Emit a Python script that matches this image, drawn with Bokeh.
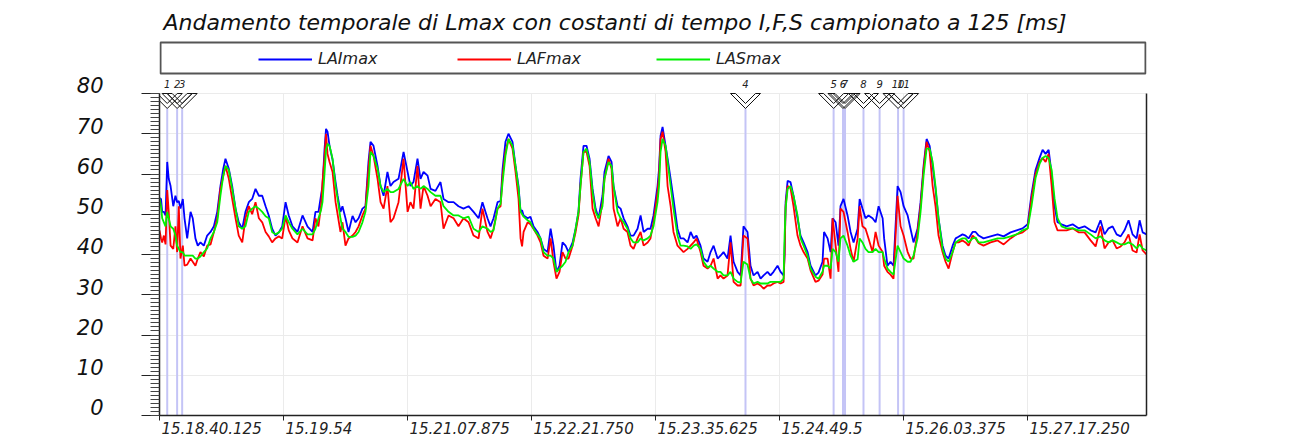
from bokeh.plotting import figure
from bokeh.models import (Range1d, LinearAxis, FixedTicker, CustomJSTickFormatter,
                          Legend, LegendItem, Label)
from bokeh.core.properties import value
from bokeh.embed import file_html
from bokeh.resources import INLINE

TITLE = "Andamento temporale di Lmax con costanti di tempo I,F,S campionato a 125 [ms]"

# elapsed time (s) from 15.18.40.125
time_s = [
    0.0, 0.9, 1.6, 2.6, 3.6, 4.6, 5.5, 6.6, 8.2, 9.5,
    10.5, 11.5, 12.5, 13.9, 14.9, 16.5, 18.5, 19.8, 21.4, 22.8,
    24.4, 26.4, 28.4, 30.4, 32.4, 34.4, 36.3, 38.0, 39.3, 41.3,
    43.3, 45.3, 47.2, 49.3, 51.2, 53.2, 55.2, 57.2, 59.2, 61.2,
    63.2, 65.1, 67.1, 69.1, 71.1, 73.1, 75.1, 77.0, 79.2, 82.2,
    85.2, 88.2, 91.2, 92.9, 94.7, 96.2, 97.1, 98.3, 99.2, 100.1,
    101.3, 103.1, 104.9, 106.1, 107.8, 109.0, 110.8, 112.6, 115.0, 116.8,
    118.6, 120.9, 122.7, 124.5, 125.7, 127.5, 129.9, 131.7, 133.5, 135.8,
    137.6, 139.4, 142.4, 145.4, 147.8, 149.5, 151.3, 153.7, 155.5, 157.3,
    159.7, 161.5, 164.4, 167.4, 169.2, 172.2, 175.2, 178.1, 181.1, 184.1,
    187.1, 190.1, 192.4, 195.4, 197.2, 199.0, 201.4, 203.2, 204.4, 206.1,
    207.9, 210.3, 212.1, 213.9, 215.1, 216.0, 216.9, 219.3, 221.0, 222.8,
    225.2, 227.0, 228.8, 231.2, 233.0, 234.7, 236.5, 238.3, 240.1, 241.9,
    243.7, 246.1, 247.9, 249.6, 250.8, 252.6, 254.4, 256.2, 258.0, 259.8,
    261.6, 263.9, 265.1, 267.5, 269.3, 270.5, 272.9, 274.7, 276.5, 278.8,
    280.6, 282.4, 284.8, 286.6, 288.4, 290.8, 292.5, 294.3, 296.7, 297.6,
    298.5, 299.7, 301.5, 302.7, 304.5, 306.2, 308.6, 310.4, 312.2, 314.6,
    316.4, 318.2, 319.9, 322.3, 324.1, 326.5, 328.3, 330.1, 332.5, 334.2,
    336.0, 338.4, 340.2, 342.0, 344.4, 346.2, 347.9, 350.3, 352.1, 353.9,
    356.3, 358.1, 359.9, 362.2, 364.0, 365.8, 368.2, 370.0, 371.8, 372.4,
    373.0, 374.2, 375.9, 377.7, 380.1, 381.9, 383.7, 386.1, 387.9, 390.8,
    392.6, 395.0, 395.9, 398.0, 399.8, 401.0, 402.8, 404.5, 405.7, 407.5,
    409.9, 411.7, 413.5, 415.9, 417.1, 418.8, 420.6, 422.4, 424.8, 426.6,
    428.4, 430.8, 431.7, 433.7, 435.5, 437.3, 439.7, 441.5, 443.3, 445.7,
    447.4, 449.2, 451.6, 453.4, 455.2, 457.0, 458.8, 460.6, 462.3, 464.1,
    466.5, 468.3, 470.1, 472.5, 474.3, 476.0, 478.4, 480.2, 482.0, 484.4,
    486.2, 488.0, 490.9, 495.1, 499.3, 502.9, 507.0, 510.6, 514.2, 517.2,
    519.5, 521.9, 524.3, 526.1, 527.9, 529.7, 531.5, 533.2, 535.0, 537.4,
    540.4, 544.0, 547.5, 551.1, 554.7, 557.7, 560.6, 563.0, 565.4, 567.8,
    570.2, 572.6, 574.9, 577.3, 579.7, 582.1, 583.9, 585.7, 588.0,
]

lai_max = [
    54, 53.8, 50.6, 50.6, 49.7, 63, 58.8, 57, 52, 54.6,
    53, 53.3, 51.4, 53.8, 49, 44, 50.6, 49, 44, 42.2,
    43, 42.2, 44.7, 45.6, 47, 50.6, 57, 61.3, 63.8, 61.3,
    57, 51.4, 48, 46.4, 50.6, 53, 53.8, 56.3, 54.6, 54.6,
    52, 49.7, 46.4, 44.7, 45.5, 47, 53, 49.7, 47, 45.6,
    49.7, 46.9, 45.6, 50.6, 50.6, 54.6, 57, 66, 71.2, 70.5,
    67, 63.5, 58, 54.6, 50.6, 52, 49, 45.6, 49.6, 48,
    49, 51.4, 52, 63, 68, 67, 62, 57, 54.6, 60.5,
    57, 58, 58.8, 65.5, 60.5, 57, 58, 63.8, 58.8, 60.5,
    59.6, 56.3, 55.8, 58, 53.8, 53, 53, 52, 51.4, 52,
    50.6, 49, 53, 49, 47, 49, 53, 53.3, 61.3, 68,
    70, 68, 62, 57, 50.6, 51, 49.7, 49, 49.4, 47,
    45.6, 44, 41.4, 40.6, 46.4, 42.2, 35.7, 37.2, 43, 42.2,
    40.6, 43, 46.4, 50.6, 58.8, 67, 67, 63.8, 56.3, 51.4,
    49, 54.6, 60.5, 64.5, 63, 57, 52, 51.4, 49, 47,
    44.7, 44.7, 46.4, 49.7, 45.6, 46.4, 46.4, 49.7, 57, 61.3,
    69.5, 71.7, 67, 63.8, 58.8, 53.8, 46.4, 44, 44, 43,
    45.6, 44, 44.7, 42.2, 39, 38.2, 40.6, 42.2, 39, 39.7,
    40.6, 39, 44.7, 38.2, 35.7, 34.8, 47, 45.6, 37.2, 34.8,
    35.7, 34, 34.8, 35.7, 34.8, 35.7, 37.2, 35.7, 34.8, 40,
    53, 58.3, 58, 54.6, 49, 44.7, 43, 40.6, 37.2, 34.8,
    35.5, 38.2, 45.6, 44, 40.6, 49, 48, 42.2, 52, 53.8,
    49.7, 45.6, 43, 46.4, 53.8, 51.4, 49, 49.7, 49, 48,
    52, 49, 44, 37.2, 38.2, 37.2, 57, 55.5, 52, 49.7,
    46.4, 43, 46.4, 53, 62, 68.7, 67, 62, 56.3, 49,
    42.2, 39.7, 39, 42.2, 44, 44.4, 45, 44.7, 44, 45.6,
    45.6, 44.7, 44, 44.5, 45, 44.5, 45.5, 46, 46.5, 47.5,
    55, 61, 64, 66, 65, 66, 60, 52, 48, 47.5,
    47, 47.5, 46.5, 47, 46, 45.5, 48.5, 45, 46.5, 47,
    45, 44.5, 46, 48.5, 45, 44, 48.5, 45.5, 45,
]

laf_max = [
    46, 44, 43, 44.7, 42.5, 56, 50.6, 42.2, 41.4, 47,
    40.6, 52, 39, 42.2, 37.2, 37.5, 39, 38.2, 37.2, 39,
    40.6, 39.5, 42.2, 42.5, 45.6, 49, 56.3, 59.5, 62, 58.8,
    53.8, 49, 44.7, 43, 49, 52, 50, 53, 49, 48,
    45.6, 44.5, 43, 44, 44.5, 44, 49.5, 46, 44, 43,
    47, 44, 43.5, 49, 47, 52, 58, 64, 70, 65,
    63, 60.5, 53, 50, 45.6, 48, 42.2, 44, 44.7, 45.6,
    47, 49.7, 51.4, 61.3, 67, 64.5, 58.8, 53, 51.4, 57,
    48, 49, 53, 63.8, 50.6, 53, 51.4, 62, 51.4, 57,
    54.6, 52, 53.8, 53, 46.4, 49.7, 49, 47, 49, 48,
    44.7, 44, 51.4, 45.6, 44, 46.4, 51.4, 52, 59.6, 65.5,
    68.7, 66.3, 60.5, 53.8, 44, 42, 45.6, 48, 47.5, 46.4,
    44.7, 43, 39.7, 39, 44, 38.2, 34, 35.7, 40.6, 39,
    39, 42.2, 45.6, 49.7, 57, 65.5, 65.5, 62, 51.4, 49,
    47, 53, 58.8, 63.8, 61.3, 51.4, 47, 49, 46.4, 45.6,
    42.2, 41.4, 44, 45.6, 42.2, 43, 44, 48, 55.5, 59.6,
    68.7, 70.5, 65.5, 57, 52, 45.6, 42.2, 41.4, 40.6, 41.4,
    42.2, 43, 44, 40.6, 37.2, 36.5, 37.2, 39, 34, 34.8,
    34, 34.8, 43, 33.2, 32.3, 32.3, 44.7, 44, 34, 32.3,
    32.8, 32.3, 31.5, 32.3, 32.3, 32.8, 33.2, 32.8, 33.2, 40,
    52, 57, 56.5, 52, 44.7, 42.2, 40.6, 39, 36, 33.2,
    33.5, 35, 39, 39, 34, 49, 42.2, 35.7, 51.4, 50.6,
    45.6, 41.4, 38.2, 44, 52, 47, 46.4, 44, 40.6, 45.6,
    42.2, 40.6, 37.2, 35.7, 35, 34, 54.6, 47, 44.7, 40.6,
    39, 39, 45.6, 52, 61.3, 68, 65.5, 57, 52, 44.7,
    40.6, 38.2, 36.5, 40.6, 43, 43, 43.5, 43, 42.2, 44.7,
    44, 42.8, 42.2, 43, 43.5, 42.5, 44, 45, 45.5, 46.5,
    54, 60, 63, 64, 63, 65, 57, 48, 46, 46,
    46, 46.5, 45.5, 45.5, 43.5, 42, 47, 41.5, 43, 43.5,
    41.5, 42, 43, 45, 41, 40.5, 45, 41, 40,
]

las_max = [
    54, 52, 49, 48, 47, 50.6, 49, 47, 46.4, 44.7,
    42.2, 41.4, 40.6, 40.6, 39.7, 39.7, 39.7, 39.7, 39, 39,
    39.5, 40.6, 41.5, 44, 45.6, 48, 54.6, 59.6, 62, 61,
    56.3, 51.4, 47, 46.4, 47, 50.6, 51.4, 52, 51.4, 50.6,
    49.5, 49, 45.6, 45, 45.5, 46.4, 49.7, 48, 46.4, 45,
    46.4, 45, 45, 46.4, 49, 51, 53, 60, 66, 67.5,
    67, 63.8, 57, 53.8, 49, 46.4, 45.6, 44.4, 44.4, 44.7,
    45.6, 48, 50.6, 57, 65.5, 64.5, 61.3, 57, 55.5, 56.3,
    55.5, 55.5, 56.3, 58.8, 57, 58, 56.3, 57, 56.3, 57,
    56.3, 55.5, 54.6, 54.6, 52, 50.6, 49.7, 49.7, 49, 49.4,
    46.4, 45.6, 47, 46.4, 45.6, 46, 51.4, 52.6, 58, 64.5,
    68.7, 67, 62, 56.3, 50.6, 50, 49.4, 48.5, 48, 46.4,
    45, 44, 40.6, 39.7, 39.7, 39, 35.7, 36.5, 37.2, 38.2,
    40.6, 42.2, 46.4, 50.6, 57, 65.5, 66.3, 63, 55.5, 50.6,
    49, 52, 58.8, 63, 62, 57, 50.6, 49, 48, 46.4,
    44, 43, 43, 44, 43.5, 44, 44.7, 47, 53, 57,
    65.5, 68.7, 67, 63, 57, 51.4, 44.7, 42.2, 42.2, 42,
    41.4, 42.2, 42.5, 41.4, 38.2, 36.8, 37.2, 36.5, 35.7, 35.7,
    34.8, 34.8, 35.7, 34, 33.2, 33, 38.2, 37.5, 34, 32.8,
    33.2, 32.8, 32.8, 32.8, 33.2, 33.2, 33.2, 33.2, 34, 44.7,
    51.4, 56.3, 57, 54.6, 49.7, 44, 42.2, 39.7, 36.5, 34.5,
    34, 35.7, 37.2, 37.2, 36.5, 41.4, 40.6, 38.2, 44, 44.7,
    42.2, 39.7, 38.2, 38.8, 44, 43, 41.4, 40.6, 40.6, 41.4,
    40.6, 40.6, 39, 36.5, 35.7, 35, 42.2, 40.6, 39, 38.2,
    38.2, 39.7, 44, 50.6, 59.6, 66.3, 66.3, 63, 57, 49,
    41.4, 39, 38.2, 40.6, 43, 43.5, 44, 44, 43, 44,
    44.2, 43, 43, 43.5, 44, 44, 44.5, 45, 46, 46.5,
    52, 59, 62.5, 64, 64.5, 64, 61, 54, 49, 47,
    46.5, 46.5, 46, 46, 45, 44, 44.5, 43.5, 43, 43.5,
    43, 42.5, 42.5, 43, 42.5, 41.5, 42.5, 41.5, 41,
]

assert len(time_s) == len(lai_max) == len(laf_max) == len(las_max)

event_s = [4.6, 10.5, 13.5, 349.1, 401.6, 407.2, 408.4, 419.4, 429.0, 440.0, 443.3]
event_labels = ["1", "2", "3", "4", "5", "6", "7", "8", "9", "10", "11"]

x_tick_s = [0.0, 73.875, 147.75, 221.625, 295.5, 369.375, 443.25, 517.125]
x_tick_labels = ["15.18.40.125", "15.19.54", "15.21.07.875", "15.22.21.750",
                 "15.23.35.625", "15.24.49.5", "15.26.03.375", "15.27.17.250"]
y_ticks = [0, 10, 20, 30, 40, 50, 60, 70, 80]

series_names = ["LAImax", "LAFmax", "LASmax"]
series_colors = ["#0000ff", "#ff0000", "#00f000"]

# ---------------- layout constants ----------------
FONT = "DejaVu Sans"
FW, FH = 987, 375
T_END = 588.0
Y_TOP = FH / 4.025     # 4.025 px per dB
Y_MAX = 80
SPX = T_END / FW       # seconds per pixel
DPX = Y_TOP / FH       # dB per pixel
AXIS_COL = "#222222"
GRID_COL = "#ebebeb"

p = figure(frame_width=FW, frame_height=FH,
           x_range=Range1d(0, T_END), y_range=Range1d(0, Y_TOP),
           output_backend="svg", toolbar_location=None,
           min_border_left=159, min_border_right=158,
           min_border_top=40, min_border_bottom=25,
           background_fill_color="white", border_fill_color="white",
           title=TITLE)
p.outline_line_color = None
p.title.text_font = FONT
p.title.text_font_style = "italic"
p.title.text_font_size = "22px"
p.title.text_color = "#111111"
p.title.offset = 4
p.title.standoff = 12

# ---- x axis: ticks ----
xa = p.xaxis[0]
xa.ticker = FixedTicker(ticks=x_tick_s, minor_ticks=[])
xa.formatter = CustomJSTickFormatter(code="return '';")
xa.major_label_text_font_size = "0px"
xa.major_label_standoff = 0
xa.major_tick_out = 5
xa.major_tick_in = 0
xa.minor_tick_line_color = None
xa.axis_line_color = AXIS_COL
xa.axis_line_width = 1.5
xa.major_tick_line_color = AXIS_COL

# ---- x axis: left-aligned labels ----
FSX = 15
def _label_w(s):
    return sum((0.636 if c.isdigit() else 0.318) * FSX for c in s)
x_lab_pos = [t + (_label_w(s) / 2 + 2) * SPX for t, s in zip(x_tick_s, x_tick_labels)]
xl = LinearAxis(
    ticker=FixedTicker(ticks=x_lab_pos, minor_ticks=[]),
    formatter=CustomJSTickFormatter(args=dict(pos=x_lab_pos, lab=x_tick_labels), code="""
        let best = 0, bd = Infinity;
        for (let i = 0; i < pos.length; i++) {
            const d = Math.abs(pos[i] - tick);
            if (d < bd) { bd = d; best = i; }
        }
        return lab[best];
    """),
    axis_line_color=None, major_tick_line_color=None, minor_tick_line_color=None,
    major_tick_out=0, major_tick_in=0, major_label_standoff=1,
    major_label_text_font=FONT, major_label_text_font_style="italic",
    major_label_text_font_size=f"{FSX}px", major_label_text_color="#222222")
p.add_layout(xl, "below")

# ---- y axis: ticks ----
ya = p.yaxis[0]
ya.ticker = FixedTicker(ticks=y_ticks, minor_ticks=list(range(0, Y_MAX + 1)))
ya.bounds = (0, Y_MAX)
ya.formatter = CustomJSTickFormatter(code="return '';")
ya.major_label_text_font_size = "0px"
ya.major_label_standoff = 0
ya.major_tick_out = 18
ya.major_tick_in = 0
ya.minor_tick_out = 9
ya.minor_tick_in = 0
ya.axis_line_color = AXIS_COL
ya.axis_line_width = 1.5
ya.major_tick_line_color = AXIS_COL
ya.minor_tick_line_color = "#444444"

# ---- y axis: labels (sitting on their tick, as in the original) ----
LAB_SHIFT = 2
yl = LinearAxis(
    ticker=FixedTicker(ticks=[v + LAB_SHIFT for v in y_ticks], minor_ticks=[]),
    formatter=CustomJSTickFormatter(args=dict(sh=LAB_SHIFT),
                                    code="return (tick - sh).toFixed(0);"),
    axis_line_color=None, major_tick_line_color=None, minor_tick_line_color=None,
    major_tick_out=0, major_tick_in=0, major_label_standoff=38,
    major_label_text_font=FONT, major_label_text_font_style="italic",
    major_label_text_font_size="21px", major_label_text_color="#111111")
p.add_layout(yl, "left")

# ---- right border ----
ra = LinearAxis(bounds=(0, Y_MAX), ticker=FixedTicker(ticks=[], minor_ticks=[]),
                axis_line_color=AXIS_COL, axis_line_width=1.5,
                major_tick_line_color=None, minor_tick_line_color=None,
                major_label_text_font_size="0px")
p.add_layout(ra, "right")

# ---- grid ----
p.xgrid.visible = False
p.ygrid.grid_line_color = GRID_COL
p.segment(x0=x_tick_s, y0=[0] * len(x_tick_s), x1=x_tick_s, y1=[Y_MAX] * len(x_tick_s),
          line_color=GRID_COL, line_width=1)

# ---- event markers ----
n_ev = len(event_s)
p.segment(x0=event_s, y0=[0] * n_ev, x1=event_s, y1=[Y_MAX - 15 * DPX] * n_ev,
          line_color="#c4c4f6", line_width=2)

# ---- series ----
renderers = []
for ys, col in zip([lai_max, laf_max, las_max], series_colors):
    r = p.line(time_s, ys, line_color=col, line_width=1.8)
    renderers.append(r)

# chevron markers (pointing down) at the event times
chev_dx = [-15, 0, 15, 10, 0, -10]
chev_dy = [0, -15, 0, 0, -10, 0]
xs = [[t + dx * SPX for dx in chev_dx] for t in event_s]
ys = [[Y_MAX + dy * DPX for dy in chev_dy] for t in event_s]
p.patches(xs, ys, fill_color=None, line_color="#111111", line_width=1)
p.text(x=event_s, y=[Y_MAX + 10 * DPX] * n_ev, text=event_labels,
       text_font=value(FONT), text_font_style="italic", text_font_size="10px",
       text_align="center", text_baseline="middle", text_color="#222222")

# ---- legend box + legend ----
p.quad(left=[SPX], right=[T_END - SPX], bottom=[Y_TOP - 33 * DPX], top=[Y_TOP - 2 * DPX],
       fill_color="white", line_color="#555555", line_width=2)
legend = Legend(
    items=[LegendItem(label=n, renderers=[r]) for n, r in zip(series_names, renderers)],
    orientation="horizontal", location=(95, FH - 32),
    border_line_alpha=0, background_fill_alpha=0,
    glyph_width=54, glyph_height=16, label_standoff=6, label_width=130, spacing=9,
    padding=4, margin=0,
    label_text_font=FONT, label_text_font_style="italic", label_text_font_size="16px",
    label_text_color="#222222")
p.add_layout(legend)

p.add_layout(Label(x=0, y=Y_MAX + LAB_SHIFT, x_offset=-147, text="dB",
                   text_align="left", text_baseline="middle",
                   text_font=FONT, text_font_style="italic", text_font_size="21px",
                   text_color="#111111"))

open("out.html", "w").write(file_html(p, INLINE))
